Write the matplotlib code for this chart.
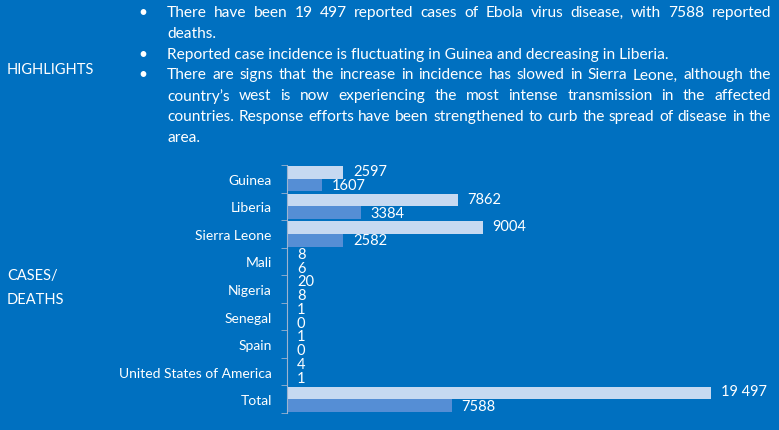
import numpy as np
import matplotlib.pyplot as plt

plt.rcParams['font.family'] = ['Lato', 'DejaVu Sans']

# data
countries = ['Guinea', 'Liberia', 'Sierra Leone', 'Mali', 'Nigeria', 'Senegal',
             'Spain', 'United States of America', 'Total']
cases = [2597, 7862, 9004, 8, 20, 1, 1, 4, 19497]
deaths = [1607, 3384, 2582, 6, 8, 0, 0, 1, 7588]

# highlight bullets, wrapped as in the original
wrapped = [
    ["There have been 19 497 reported cases of Ebola virus disease, with 7588 reported", "deaths."],
    ["Reported case incidence is fluctuating in Guinea and decreasing in Liberia."],
    ["There are signs that the increase in incidence has slowed in Sierra Leone, although the",
     "country\u2019s west is now experiencing the most intense transmission in the affected",
     "countries. Response efforts have been strengthened to curb the spread of disease in the",
     "area."],
]

BG = '#0070C0'
LIGHT = '#C6D9F1'
DARK = '#558ED5'
W, H = 779, 431
FS = 10.5
FS_BODY = 11.2

fig = plt.figure(figsize=(W / 100, H / 100), dpi=100)
fig.patch.set_facecolor(BG)


def fx(px):
    return px / W


def fy(py):
    return 1 - py / H


def fmt(v):
    return f"{v:,}".replace(",", " ") if v >= 10000 else str(v)


# side headings
fig.text(fx(7), fy(70), "HIGHLIGHTS", color='white', fontsize=FS, va='center')
fig.text(fx(7), fy(276), "CASES/", color='white', fontsize=FS, va='center')
fig.text(fx(7), fy(300), "DEATHS", color='white', fontsize=FS, va='center')

# bullet text, justified like the original
renderer = fig.canvas.get_renderer()
x0, x1 = 167, 771
y = 13
line_h = 20.8
for para in wrapped:
    fig.text(fx(143), fy(y), "\u2022", color='white', fontsize=FS_BODY, va='center', ha='center')
    for i, line in enumerate(para):
        if i == len(para) - 1:
            fig.text(fx(x0), fy(y), line, color='white', fontsize=FS_BODY, va='center')
        else:
            words = line.split(' ')
            objs = [fig.text(fx(x0), fy(y), w_, color='white', fontsize=FS_BODY, va='center')
                    for w_ in words]
            widths = [o.get_window_extent(renderer).width for o in objs]
            gap = (x1 - x0 - sum(widths)) / (len(words) - 1)
            x = x0
            for o, wd in zip(objs, widths):
                o.set_x(fx(x))
                x += wd + gap
        y += line_h

# bar chart
top, bottom = 166, 414
left, right = 287, 760
ax = fig.add_axes([fx(left), fy(bottom), fx(right - left), (bottom - top) / H])
ax.set_facecolor('none')

y_pos = np.arange(len(countries))
bh = 0.46
ax.barh(y_pos - bh / 2, cases, height=bh, color=LIGHT)
ax.barh(y_pos + bh / 2, deaths, height=bh, color=DARK)

scale = 19497 / 424
ax.set_xlim(0, (right - left) * scale)
ax.set_ylim(len(countries) - 0.5, -0.5)

for yy, c, d in zip(y_pos, cases, deaths):
    ax.annotate(fmt(c), (c, yy - bh / 2), xytext=(7, 1), textcoords='offset points',
                color='white', fontsize=FS, va='center')
    ax.annotate(fmt(d), (d, yy + bh / 2), xytext=(7, 0), textcoords='offset points',
                color='white', fontsize=FS, va='center')

ax.set_yticks(y_pos)
ax.set_yticklabels(countries, color='white', fontsize=10)
ax.tick_params(axis='y', which='major', length=0, pad=11)
ax.set_yticks(np.arange(len(countries) + 1) - 0.5, minor=True)
ax.tick_params(axis='y', which='minor', length=4, color='#9DB4D0')
ax.set_xticks([])
for s in ['top', 'right', 'bottom']:
    ax.spines[s].set_visible(False)
ax.spines['left'].set_color('#9DB4D0')

fig.savefig('out.png', dpi=100, facecolor=BG)
